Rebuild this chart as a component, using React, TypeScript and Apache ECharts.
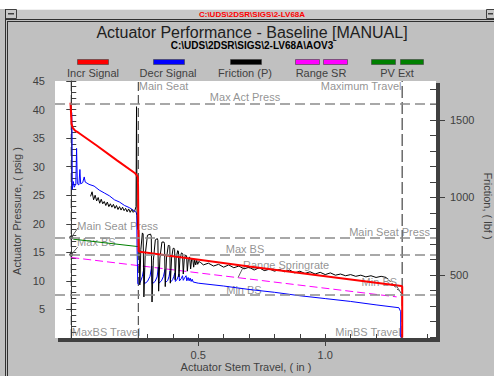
import React, { useEffect, useRef } from "react";
import * as echarts from "echarts";

const FONT = "'Liberation Sans', Arial, sans-serif";

// ---- data (travel in, pressure psig) ----
const incrSignal: number[][] = [
  [-0.003, 41.2], [-0.001, 39.5], [0.001, 37.5], [0.006, 36.8], [0.015, 36.3], [0.03, 35.9],
  [0.1, 33.7], [0.18, 31.1], [0.25, 28.9], [0.258, 28.5], [0.262, 28.2], [0.263, 26.5],
  [0.265, 15.2], [0.27, 15.1], [0.7, 12.5], [1.3, 9.1], [1.303, 9.0], [1.303, 0.1],
];

const decrSignal: number[][] = [
  [0.002, 39.5], [0.003, 37.0], [0.004, 26.0], [0.008, 27.4], [0.012, 26.4], [0.018, 27.0],
  [0.021, 33.2], [0.024, 27.0], [0.03, 26.8], [0.034, 29.5], [0.037, 27.0], [0.045, 27.2],
  [0.051, 28.2], [0.055, 27.3], [0.07, 26.9], [0.09, 26.6], [0.11, 25.9], [0.13, 25.4],
  [0.15, 24.9], [0.17, 24.2], [0.19, 23.8], [0.21, 23.2], [0.23, 22.8], [0.25, 22.2],
  [0.256, 22.0], [0.258, 21.5], [0.259, 16.0], [0.262, 9.5],
  [0.265, 9.4], [0.272, 9.8], [0.280, 10.8], [0.286, 12.2], [0.288, 9.5], [0.300, 9.9],
  [0.310, 10.8], [0.317, 12.6], [0.319, 9.5], [0.330, 9.9], [0.338, 10.7], [0.343, 12.4],
  [0.345, 9.6], [0.355, 10.0], [0.363, 10.8], [0.369, 12.0], [0.371, 9.7], [0.380, 10.1],
  [0.385, 10.8], [0.389, 11.7], [0.391, 9.8], [0.399, 10.2], [0.404, 10.8], [0.408, 11.4],
  [0.410, 9.9], [0.417, 10.3], [0.421, 10.8], [0.424, 11.2], [0.426, 10.0], [0.433, 10.4],
  [0.438, 10.9], [0.441, 10.1], [0.447, 10.6], [0.452, 10.9], [0.455, 10.0], [0.460, 10.6],
  [0.464, 10.0], [0.468, 10.5], [0.472, 9.9], [0.476, 10.3], [0.480, 9.8], [0.50, 9.6],
  [0.60, 9.1], [0.70, 8.5], [0.80, 8.0], [0.90, 7.4], [1.00, 6.9], [1.10, 6.4], [1.20, 5.8],
  [1.29, 5.3], [1.297, 4.6], [1.297, 0.1],
];

const frictionP: number[][] = [
  [0.076, 24.8], [0.082, 25.6], [0.088, 24.2], [0.094, 25.0], [0.100, 24.0], [0.106, 24.6],
  [0.112, 23.6], [0.118, 24.3], [0.124, 23.5], [0.130, 23.9], [0.136, 23.2], [0.142, 23.8],
  [0.148, 23.0], [0.154, 23.5], [0.160, 22.9], [0.166, 23.4], [0.172, 22.7], [0.178, 23.2],
  [0.184, 22.5], [0.190, 23.0], [0.196, 22.4], [0.202, 22.9], [0.208, 22.3], [0.214, 22.7],
  [0.220, 22.1], [0.226, 22.6], [0.232, 22.0], [0.238, 22.5], [0.244, 22.0], [0.250, 22.3],
  [0.255, 23.0], [0.257, 40.5], [0.259, 22.0], [0.262, 19.0],
  [0.266, 18.9], [0.270, 9.3], [0.274, 15.5], [0.280, 18.4],
  [0.283, 18.2], [0.286, 7.2], [0.291, 14.5], [0.300, 18.0], [0.312, 18.2],
  [0.315, 17.8], [0.318, 6.3], [0.323, 13.5], [0.331, 17.2], [0.339, 17.4],
  [0.341, 17.1], [0.344, 8.2], [0.349, 14.0], [0.357, 16.8], [0.365, 16.8],
  [0.367, 16.5], [0.370, 9.0], [0.375, 14.0], [0.382, 16.2], [0.386, 16.2],
  [0.388, 16.0], [0.390, 9.6], [0.395, 14.0], [0.401, 15.7], [0.405, 15.7],
  [0.407, 15.5], [0.409, 10.2], [0.413, 14.0], [0.419, 15.3], [0.422, 15.2],
  [0.424, 10.7], [0.428, 14.0], [0.434, 14.9], [0.438, 14.8],
  [0.441, 11.2], [0.445, 13.9], [0.450, 14.5], [0.454, 14.4],
  [0.457, 11.7], [0.461, 13.8], [0.466, 14.2],
  [0.470, 12.1], [0.474, 13.8], [0.478, 14.0],
  [0.482, 12.4], [0.486, 13.7], [0.490, 12.8], [0.494, 13.6], [0.498, 12.9], [0.502, 13.4],
  [0.51, 13.2], [0.52, 12.8], [0.54, 13.1], [0.56, 12.6], [0.58, 12.9], [0.60, 12.4],
  [0.62, 12.8], [0.64, 12.3], [0.66, 12.6], [0.68, 12.1], [0.70, 12.4], [0.72, 11.9],
  [0.74, 12.3], [0.76, 11.8], [0.78, 12.1], [0.80, 11.7], [0.82, 12.0], [0.84, 11.6],
  [0.86, 11.9], [0.88, 11.4], [0.90, 11.7], [0.92, 11.3], [0.94, 11.6], [0.96, 11.2],
  [0.98, 11.5], [1.00, 11.1], [1.02, 11.4], [1.04, 11.0], [1.06, 11.2], [1.08, 10.9],
  [1.10, 11.1], [1.12, 10.8], [1.14, 11.0], [1.16, 10.7], [1.18, 10.9], [1.20, 10.6],
  [1.22, 10.8], [1.24, 10.6],
];
const frictionTail: number[][] = [[1.24, 10.6], [1.303, 7.7]];

const rangeSR: number[][] = [[0.0, 14.1], [1.281, 7.2]];
const pvExt: number[][] = [[0.008, 17.3], [0.264, 16.0]];

// limit lines
const pressureLimits = [41, 17.6, 14.6, 7.6]; // Max Act Press, Main Seat Press, Max BS, Min BS
const travelLimits = [0, 0.264, 1.303]; // MaxBS Travel, Main Seat, Maximum Travel
const travelLimitColors = ["#303030", "#303030", "#6a6a6a"];
const seatPoints: number[][] = [[0, 17.6], [0, 14.6]];

// annotation labels
const annoTexts = [
  "Max Act Press", "Main Seat", "Maximum Travel", "Main Seat Press", "Max BS",
  "Range Springrate", "Min BS", "Min BS", "MaxBS Travel", "MinBS Travel",
  "Main Seat Press", "Max BS",
];
const annoPoints: number[][] = [
  [0.684, 42.15], [0.266, 44.2], [1.300, 44.1], [1.412, 18.6], [0.684, 15.5],
  [0.676, 12.8], [0.68, 8.4], [1.213, 9.86], [0.002, 1.1], [1.297, 1.1],
  [0.024, 19.67], [0.023, 16.76],
];
const annoAlign = [
  "center", "left", "right", "right", "center",
  "left", "center", "center", "left", "right",
  "left", "left",
];
const pointerLines: number[][][] = [
  [[0.027, 19.3], [0.0, 17.6]],
  [[0.025, 15.9], [0.0, 14.6]],
  [[0.677, 12.4], [0.657, 10.6]],
  [[1.278, 9.3], [1.301, 7.7]],
];

// ticks
const pressureLabels = [5, 10, 15, 20, 25, 30, 35, 40, 45];
const pressureMajor = [0, 5, 10, 15, 20, 25, 30, 35, 40, 45];
const travelLabels = [0.5, 1.0];
const travelMinor = [0.3, 0.4, 0.5, 0.6, 0.7, 0.8, 0.9, 1.0, 1.1, 1.2, 1.3, 1.4];
const frictionLabels = [500, 1000, 1500];
const frictionMinor = [100, 200, 300, 400, 500, 600, 700, 800, 900, 1000, 1100, 1200, 1300, 1400, 1500, 1600, 1700];

const legendNames = ["Incr Signal", "Decr Signal", "Friction (P)", "Range SR", "PV Ext"];
const legendColors = ["#ff0000", "#0000ff", "#000000", "#ff00ff", "#008000"];

export default function App() {
  const ref = useRef<HTMLDivElement>(null);
  useEffect(() => {
    if (!ref.current) return;
    const chart = echarts.init(ref.current, null, { renderer: "svg" });
    const grid = { left: 55, top: 81, width: 381, height: 257 };
    const axisText = { color: "#404040", fontSize: 11, fontFamily: FONT };
    const annoColor = "#777777";
    const dashGray = { color: "#8c8c8c", width: 1.5, type: [10, 5] as any };

    // legend graphics
    const legendCenters = [93, 168, 245, 321, 397];
    const legendSwatches: number[][][] = [
      [[77, 31]], [[153, 31]], [[230, 31]], [[295, 24], [323, 24]], [[371, 24], [400, 23]],
    ];
    const legendGraphics: any[] = [];
    legendNames.forEach((name, i) => {
      legendSwatches[i].forEach(([x, w]) => {
        legendGraphics.push({
          type: "rect",
          shape: { x: x + 0.5, y: 59.5, width: w, height: 5 },
          style: { fill: legendColors[i], stroke: "#404040", lineWidth: 0.6 },
        });
      });
      legendGraphics.push({
        type: "text",
        x: legendCenters[i],
        y: 73,
        style: { text: name, fill: "#404040", font: `11px ${FONT}`, align: "center", verticalAlign: "middle" },
      });
    });

    const option: any = {
      animation: false,
      backgroundColor: "#c0c0c0",
      grid: { ...grid, show: true, backgroundColor: "#ffffff", borderWidth: 0 },
      xAxis: [
        {
          type: "value", min: -0.064, max: 1.436, position: "bottom",
          axisLine: { show: false },
          axisTick: { show: true, customValues: travelLabels, length: 8, lineStyle: { color: "#404040" } },
          axisLabel: { show: true, customValues: travelLabels, margin: 11, ...axisText, formatter: (v: number) => v.toFixed(1) },
          splitLine: { show: false },
        },
        {
          type: "value", min: -0.064, max: 1.436, position: "bottom",
          axisLine: { show: false },
          axisTick: { show: true, inside: true, customValues: travelMinor, length: 4, lineStyle: { color: "#404040" } },
          axisLabel: { show: false },
          splitLine: { show: false },
        },
      ],
      yAxis: [
        {
          type: "value", min: 0, max: 45, position: "left",
          axisLine: { show: true, lineStyle: { color: "#404040", width: 1 } },
          axisTick: { show: true, customValues: pressureMajor, length: 5, lineStyle: { color: "#404040" } },
          axisLabel: { show: true, customValues: pressureLabels, margin: 10, ...axisText },
          splitLine: { show: false },
        },
        {
          type: "value", min: 0, max: 45, interval: 1, position: "left",
          axisLine: { show: false },
          axisTick: { show: true, inside: true, length: 5, lineStyle: { color: "#404040" } },
          axisLabel: { show: false },
          splitLine: { show: false },
        },
        {
          type: "value", min: 93.5, max: 1751, position: "right",
          axisLine: { show: false },
          axisTick: { show: true, customValues: frictionLabels, length: 9, lineStyle: { color: "#404040" } },
          axisLabel: { show: true, customValues: frictionLabels, margin: 14, ...axisText, formatter: (v: number) => String(v) },
          splitLine: { show: false },
        },
        {
          type: "value", min: 93.5, max: 1751, position: "right",
          axisLine: { show: false },
          axisTick: { show: true, inside: true, customValues: frictionMinor, length: 6, lineStyle: { color: "#404040" } },
          axisLabel: { show: false },
          splitLine: { show: false },
        },
      ],
      series: [
        ...travelLimits.map((x, i) => ({
          name: "travel limit " + i, type: "line", symbol: "none",
          data: [[x, 0], [x, 45]],
          lineStyle: i < 2
            ? { color: travelLimitColors[i], width: 1, type: [9, 4] }
            : { color: travelLimitColors[i], width: 1.5, type: [12, 4] },
        })),
        {
          name: "Range SR", type: "line", data: rangeSR, symbol: "none",
          lineStyle: { color: "#ff00ff", width: 1, type: [8, 4] },
          markLine: {
            silent: true, symbol: ["none", "none"], label: { show: false },
            data: pressureLimits.map((v) => ({ yAxis: v, lineStyle: dashGray })),
          },
        },
        { name: "PV Ext", type: "line", data: pvExt, symbol: "none", lineStyle: { color: "#008000", width: 1 } },
        { name: "Decr Signal", type: "line", data: decrSignal, symbol: "none", lineStyle: { color: "#0000ff", width: 1 } },
        { name: "Friction (P)", type: "line", data: frictionP, symbol: "none", lineStyle: { color: "#000000", width: 1 } },
        { name: "Friction tail", type: "line", data: frictionTail, symbol: "none", lineStyle: { color: "#000000", width: 1, type: [2, 2] } },
        { name: "Incr Signal", type: "line", data: incrSignal, symbol: "none", lineStyle: { color: "#ff0000", width: 2 } },
        ...pointerLines.map((p, i) => ({
          name: "pointer" + i, type: "line", data: p, symbol: "none",
          lineStyle: { color: "#606060", width: 1 },
        })),
        {
          name: "seat points", type: "scatter", data: seatPoints, symbolSize: 4,
          itemStyle: { color: "#000000" },
        },
        {
          name: "annotations", type: "scatter", symbolSize: 0, silent: true,
          data: annoPoints.map((p, i) => ({
            value: p,
            label: { align: annoAlign[i] },
          })),
          label: {
            show: true, position: "inside", verticalAlign: "middle",
            color: annoColor, fontSize: 11, fontFamily: FONT,
            formatter: (params: any) => annoTexts[params.dataIndex],
          },
        },
      ],
      graphic: [
        { type: "rect", shape: { x: 0, y: 0, width: 494, height: 9 }, style: { fill: "#ffffff" } },
        { type: "rect", shape: { x: 5, y: 9, width: 489, height: 10 }, style: { fill: "#c8c8c8" } },
        { type: "line", shape: { x1: 5, y1: 9.5, x2: 494, y2: 9.5 }, style: { stroke: "#f0f0f0", lineWidth: 1 } },
        { type: "rect", shape: { x: 5.5, y: 9.5, width: 11, height: 9 }, style: { fill: "#c8c8c8", stroke: "#404040", lineWidth: 1 } },
        { type: "rect", shape: { x: 8, y: 13, width: 6, height: 1.5 }, style: { fill: "#404040" } },
        { type: "rect", shape: { x: 486.5, y: 9.5, width: 10, height: 9 }, style: { fill: "#c8c8c8", stroke: "#404040", lineWidth: 1 } },
        { type: "rect", shape: { x: 488, y: 13, width: 5, height: 1.5 }, style: { fill: "#404040" } },
        { type: "line", shape: { x1: 5, y1: 19.5, x2: 494, y2: 19.5 }, style: { stroke: "#303030", lineWidth: 1 } },
        { type: "line", shape: { x1: 7, y1: 21.5, x2: 494, y2: 21.5 }, style: { stroke: "#303030", lineWidth: 1 } },
        { type: "line", shape: { x1: 5.5, y1: 9, x2: 5.5, y2: 376 }, style: { stroke: "#303030", lineWidth: 1 } },
        { type: "line", shape: { x1: 7.5, y1: 21, x2: 7.5, y2: 376 }, style: { stroke: "#303030", lineWidth: 1 } },
        {
          type: "text", x: 252, y: 14.5,
          style: { text: "C:\\UDS\\2DSR\\SIGS\\2-LV68A", fill: "#ff0000", font: `bold 8px ${FONT}`, align: "center", verticalAlign: "middle" },
        },
        {
          type: "text", x: 252, y: 32,
          style: { text: "Actuator Performance - Baseline [MANUAL]", fill: "#202020", font: `16px ${FONT}`, align: "center", verticalAlign: "middle" },
        },
        {
          type: "text", x: 252, y: 45,
          style: { text: "C:\\UDS\\2DSR\\SIGS\\2-LV68A\\AOV3", fill: "#000000", font: `bold 10px ${FONT}`, align: "center", verticalAlign: "middle" },
        },
        ...legendGraphics,
        {
          type: "text", x: 17, y: 211, rotation: Math.PI / 2,
          style: { text: "Actuator Pressure, ( psig )", fill: "#404040", font: `11px ${FONT}`, align: "center", verticalAlign: "middle" },
        },
        {
          type: "text", x: 488, y: 206, rotation: -Math.PI / 2,
          style: { text: "Friction, ( lbf )", fill: "#404040", font: `11px ${FONT}`, align: "center", verticalAlign: "middle" },
        },
        {
          type: "text", x: 246, y: 367,
          style: { text: "Actuator Stem Travel, ( in )", fill: "#404040", font: `11px ${FONT}`, align: "center", verticalAlign: "middle" },
        },
        { type: "rect", z: 100, shape: { x: 436, y: 83, width: 4, height: 259 }, style: { fill: "#404040" } },
        { type: "rect", z: 100, shape: { x: 58, y: 338, width: 382, height: 4 }, style: { fill: "#404040" } },
      ],
    };
    chart.setOption(option);
    return () => chart.dispose();
  }, []);
  return (
    <div
      ref={ref}
      style={{ position: "fixed", left: 0, top: 0, width: 494, height: 376, background: "#c0c0c0" }}
    />
  );
}
